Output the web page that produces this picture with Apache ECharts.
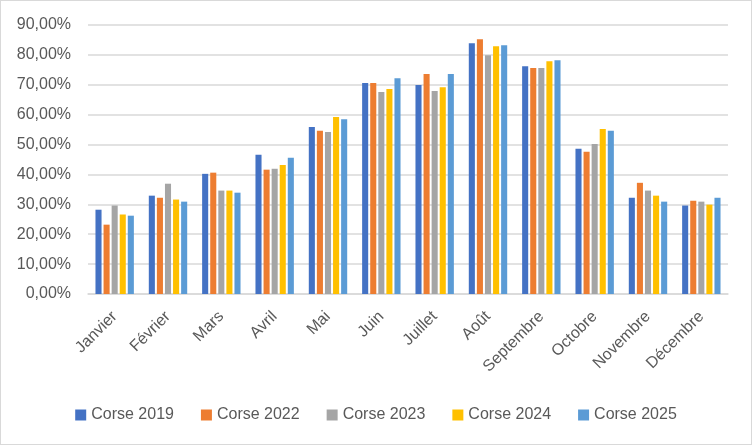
<!DOCTYPE html>
<html>
<head>
<meta charset="utf-8">
<script src="https://cdn.jsdelivr.net/npm/echarts@6/dist/echarts.min.js"></script>
<style>
html,body{margin:0;padding:0;background:#fff;}
#c{width:752px;height:445px;box-sizing:border-box;border:1px solid #d9d9d9;}
</style>
</head>
<body>
<div id="c"></div>
<script>
const months = ['Janvier','Février','Mars','Avril','Mai','Juin','Juillet','Août','Septembre','Octobre','Novembre','Décembre'];
const seriesNames = ['Corse 2019','Corse 2022','Corse 2023','Corse 2024','Corse 2025'];
const corse2019 = [28.2, 32.9, 40.2, 46.6, 55.9, 70.6, 69.9, 83.9, 76.2, 48.6, 32.2, 29.6];
const corse2022 = [23.2, 32.2, 40.6, 41.6, 54.6, 70.6, 73.6, 85.2, 75.6, 47.6, 37.2, 31.2];
const corse2023 = [29.6, 36.9, 34.6, 41.9, 54.2, 67.6, 67.9, 79.9, 75.6, 50.2, 34.6, 30.9];
const corse2024 = [26.6, 31.6, 34.6, 43.2, 59.2, 68.6, 69.2, 82.9, 77.9, 55.2, 32.9, 29.9];
const corse2025 = [26.2, 30.9, 33.9, 45.6, 58.5, 72.2, 73.6, 83.2, 78.2, 54.6, 30.9, 32.2];
const colors = ['#4472C4','#ED7D31','#A5A5A5','#FFC000','#5B9BD5'];
const allData = [corse2019, corse2022, corse2023, corse2024, corse2025];

const chart = echarts.init(document.getElementById('c'));
const font = 'Liberation Sans, Arial, sans-serif';
chart.setOption({
  animation: false,
  color: colors,
  textStyle: {fontFamily: font},
  grid: {left: 87, right: 23, top: 24, bottom: 150, containLabel: false},
  legend: {
    bottom: 16,
    left: 'center',
    itemWidth: 11,
    itemHeight: 11,
    itemGap: 27,
    icon: 'rect',
    textStyle: {fontSize: 16, color: '#595959', fontFamily: font},
    data: seriesNames
  },
  xAxis: {
    type: 'category',
    data: months,
    axisTick: {show: false},
    axisLine: {lineStyle: {color: '#d9d9d9', width: 1.5}},
    axisLabel: {rotate: 45, fontSize: 16, color: '#595959', margin: 20, interval: 0, fontFamily: font}
  },
  yAxis: {
    type: 'value',
    min: 0, max: 90, interval: 10,
    axisLine: {show: false},
    axisTick: {show: false},
    splitLine: {lineStyle: {color: '#d9d9d9', width: 1.5}},
    axisLabel: {
      fontSize: 16, color: '#595959', margin: 17, fontFamily: font,
      formatter: v => v.toFixed(2).replace('.', ',') + '%'
    }
  },
  series: seriesNames.map((n, i) => ({
    name: n,
    type: 'bar',
    data: allData[i],
    barGap: '33%',
    barCategoryGap: '28%'
  }))
});
</script>
</body>
</html>
